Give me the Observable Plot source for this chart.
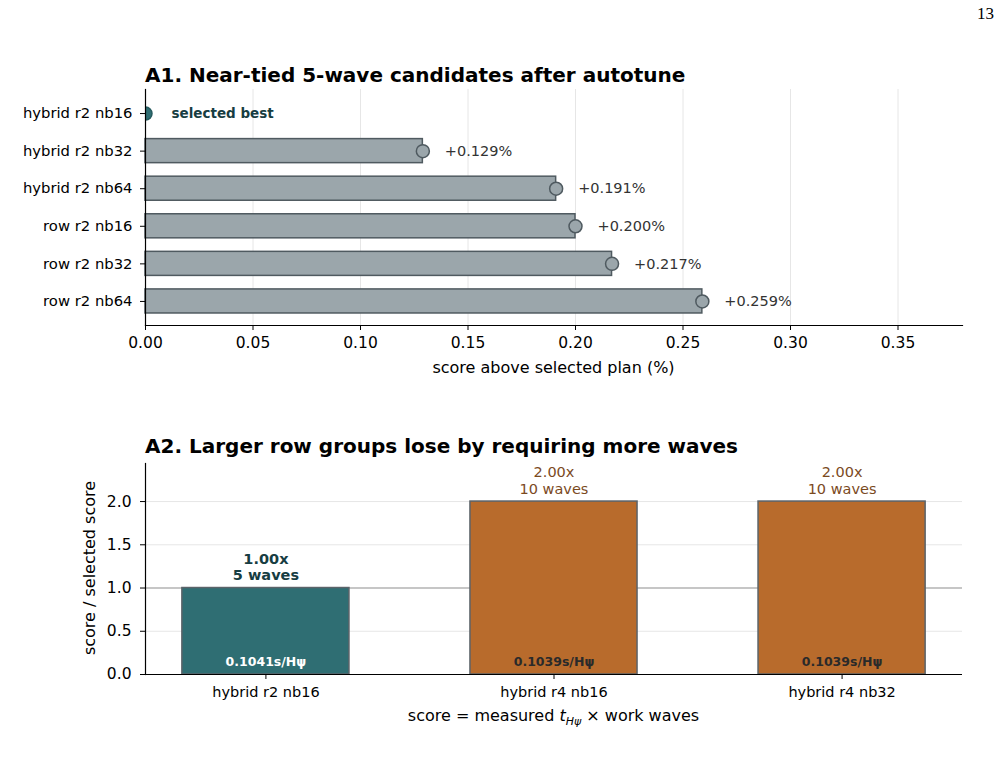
<!DOCTYPE html>
<html>
<head>
<meta charset="utf-8">
<script src="https://cdn.jsdelivr.net/npm/d3@7"></script>
<script src="https://cdn.jsdelivr.net/npm/@observablehq/plot@0.6"></script>
<style>
  body { margin: 0; background: #fff; font-family: "DejaVu Sans", sans-serif; }
  #page { position: relative; width: 1006px; height: 769px; overflow: hidden; background: #fff; }
  .abs { position: absolute; white-space: nowrap; line-height: 1; color: #000; }
  .title { font-weight: bold; font-size: 20px; }
  .axlabel { font-size: 16px; text-align: center; }
  svg { position: absolute; left: 0; }
</style>
</head>
<body>
<div id="page"></div>
<script>
// ---------- data: panel A1 ----------
const candidates = ["hybrid r2 nb16", "hybrid r2 nb32", "hybrid r2 nb64", "row r2 nb16", "row r2 nb32", "row r2 nb64"];
const excessPct = [0, 0.129, 0.191, 0.200, 0.217, 0.259];
const a1Ticks = [0, 0.05, 0.10, 0.15, 0.20, 0.25, 0.30, 0.35];

// ---------- data: panel A2 ----------
const plans = ["hybrid r2 nb16", "hybrid r4 nb16", "hybrid r4 nb32"];
const scoreRatio = [1.00, 2.00, 2.00];
const workWaves = [5, 10, 10];
const tHpsi = [0.1041, 0.1039, 0.1039];
const a2Ticks = [0, 0.5, 1.0, 1.5, 2.0];

const TEAL = "#2f6e73", ORANGE = "#b86b2c", GRAY = "#9ba6ab", EDGE = "#4f5a60";

const page = document.getElementById("page");
const font = { fontFamily: "DejaVu Sans", background: "transparent", color: "#000", overflow: "visible" };

// ---------- A1 ----------
const rowsA1 = candidates.map((name, i) => ({ name, v: excessPct[i] }));
const chartA1 = Plot.plot({
  width: 1006, height: 400,
  marginLeft: 145, marginRight: 44, marginTop: 89, marginBottom: 75,
  style: font,
  x: { domain: [0, 0.38], label: null },
  y: { domain: candidates, paddingInner: 0.36, paddingOuter: 0.32, round: false, label: null },
  marks: [
    Plot.gridX(a1Ticks, { stroke: "#e6e6e6", strokeOpacity: 1, strokeWidth: 1 }),
    Plot.barX(rowsA1.filter(d => d.v > 0), { x: "v", y: "name", fill: GRAY, stroke: EDGE, strokeWidth: 1.5 }),
    Plot.dot(rowsA1, { x: "v", y: "name", r: 6.5, fill: d => d.v === 0 ? TEAL : GRAY, stroke: d => d.v === 0 ? "#255a5e" : EDGE, strokeWidth: 1.5, clip: true }),
    Plot.text(rowsA1.filter(d => d.v > 0), { x: "v", y: "name", text: d => `+${d.v.toFixed(3)}%`, dx: 22, textAnchor: "start", fill: "#333", fontSize: 14.5 }),
    Plot.text(rowsA1.filter(d => d.v === 0), { x: "v", y: "name", text: () => "selected best", dx: 26, textAnchor: "start", fill: "#173d42", fontSize: 13.5, fontWeight: "bold" }),
    Plot.axisX(a1Ticks, { tickFormat: ".2f", tickSize: 5, tickPadding: 6, fontSize: 15.5, label: null }),
    Plot.axisY({ tickSize: 5, tickPadding: 8, fontSize: 14.8, label: null }),
    Plot.frame({ anchor: "left", stroke: "#000", strokeWidth: 1.2 }),
    Plot.frame({ anchor: "bottom", stroke: "#000", strokeWidth: 1.2 })
  ]
});
chartA1.style.top = "0px";
page.appendChild(chartA1);

// ---------- A2 ----------
const rowsA2 = plans.map((plan, i) => ({ plan, r: scoreRatio[i], w: workWaves[i], t: tHpsi[i], sel: i === 0 }));
const chartA2 = Plot.plot({
  width: 1006, height: 260,
  marginLeft: 145, marginRight: 44, marginTop: 13, marginBottom: 36,
  style: font,
  x: { domain: plans, paddingInner: 0.42, paddingOuter: 0.128, round: false, label: null },
  y: { domain: [0, 2.44], label: null },
  marks: [
    Plot.gridY(a2Ticks.filter(d => d > 0), { stroke: "#e6e6e6", strokeOpacity: 1, strokeWidth: 1 }),
    Plot.ruleY([1.0], { stroke: "#9a9a9a", strokeWidth: 1.2 }),
    Plot.barY(rowsA2, { x: "plan", y: "r", fill: d => d.sel ? TEAL : ORANGE, stroke: "#5b6369", strokeWidth: 1.5 }),
    Plot.text(rowsA2.filter(d => d.sel), { x: "plan", y: "r", text: d => `${d.r.toFixed(2)}x\n${d.w} waves`, lineAnchor: "bottom", lineHeight: 1.12, dy: -8, fill: "#173d42", fontSize: 14.5, fontWeight: "bold" }),
    Plot.text(rowsA2.filter(d => !d.sel), { x: "plan", y: "r", text: d => `${d.r.toFixed(2)}x\n${d.w} waves`, lineAnchor: "bottom", lineHeight: 1.12, dy: -8, fill: "#7b4a1e", fontSize: 14.5 }),
    Plot.text(rowsA2, { x: "plan", y: () => 0, text: d => `${d.t.toFixed(4)}s/Hψ`, dy: -13, fill: d => d.sel ? "#ffffff" : "#2a2a2a", fontSize: 12.5, fontWeight: "bold" }),
    Plot.axisY(a2Ticks, { tickFormat: ".1f", tickSize: 5, tickPadding: 9, fontSize: 15.5, label: null }),
    Plot.axisX({ tickSize: 5, tickPadding: 7, fontSize: 14.5, label: null }),
    Plot.frame({ anchor: "left", stroke: "#000", strokeWidth: 1.2 }),
    Plot.ruleY([0], { stroke: "#000", strokeWidth: 1.2 })
  ]
});
chartA2.style.top = "450px";
page.appendChild(chartA2);

// ---------- text overlays ----------
function addDiv(html, cls, css) {
  const d = document.createElement("div");
  d.className = "abs " + cls;
  d.innerHTML = html;
  Object.assign(d.style, css);
  page.appendChild(d);
  return d;
}
addDiv("13", "", { left: "977px", top: "5px", fontFamily: "'Liberation Serif', serif", fontSize: "17px" });
addDiv("A1. Near-tied 5-wave candidates after autotune", "title", { left: "145px", top: "65px" });
addDiv("score above selected plan (%)", "axlabel", { left: "145px", width: "817px", top: "360px" });
addDiv("A2. Larger row groups lose by requiring more waves", "title", { left: "145px", top: "436px" });
addDiv("score = measured <i>t</i><sub style='font-size:11px;vertical-align:-4px'><i>Hψ</i></sub> × work waves", "axlabel", { left: "145px", width: "817px", top: "708px" });
addDiv("score / selected score", "axlabel", { left: "90px", top: "568px", transform: "translate(-50%,-50%) rotate(-90deg)" });
</script>
</body>
</html>
